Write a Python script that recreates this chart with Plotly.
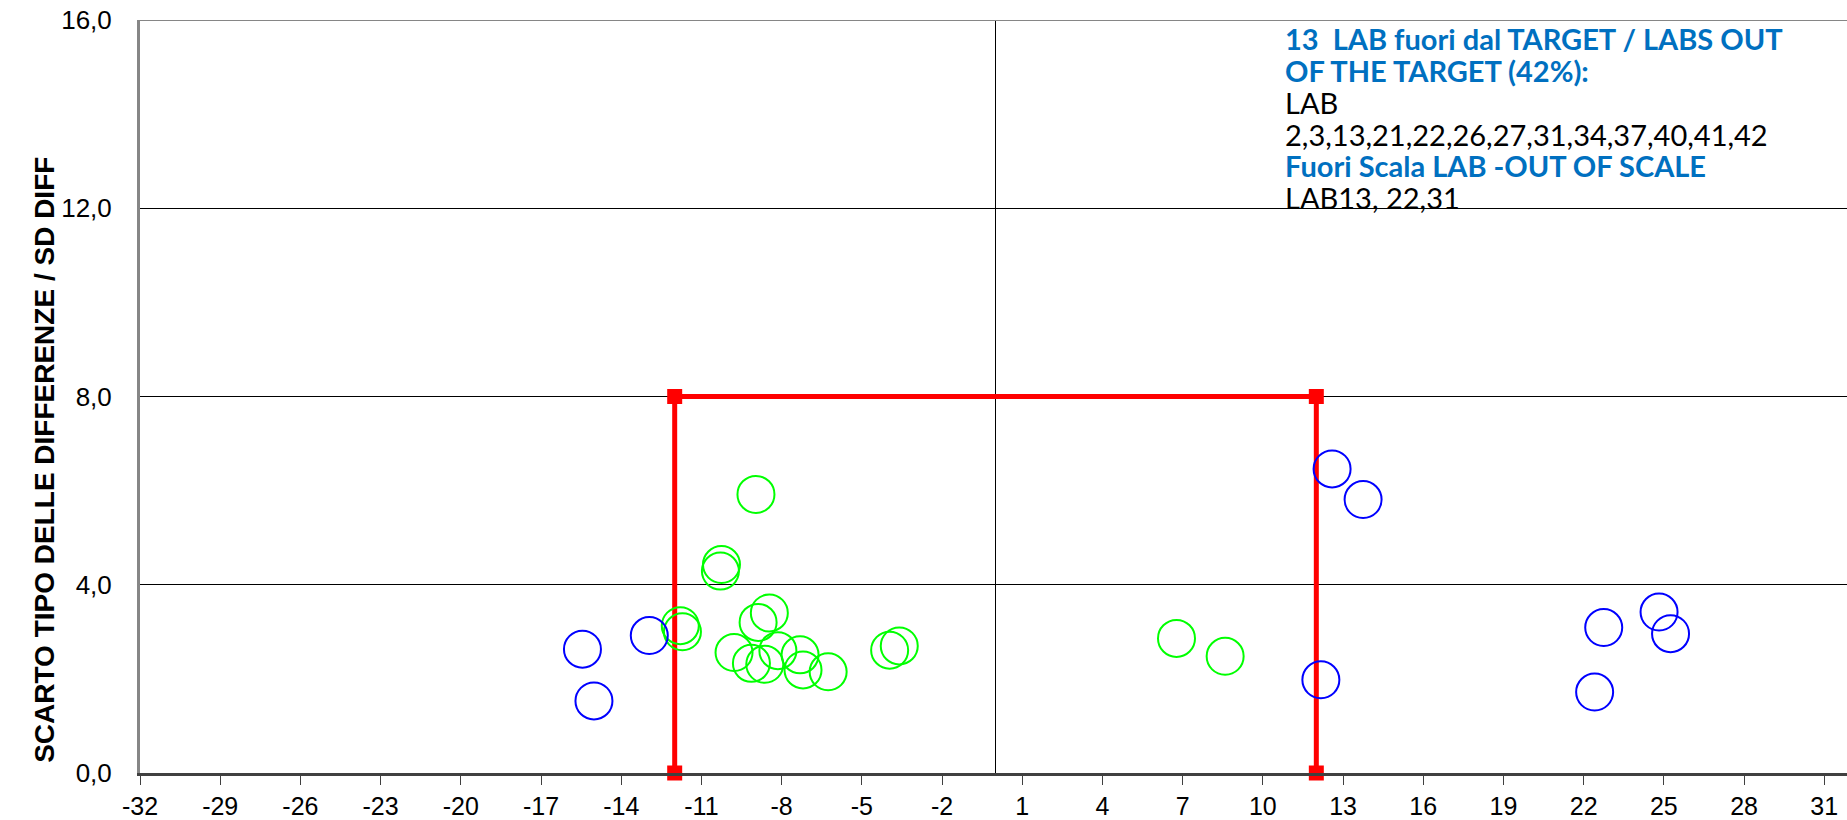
import plotly.graph_objects as go

# labs inside the target (green) and outside (blue): mean diff vs SD diff
green_x = [-8.96, -10.25, -10.29, -11.79, -11.71, -8.46, -8.88, -9.78, -9.13,
           -8.63, -8.14, -7.31, -7.20, -6.26, -3.96, -3.60, 6.77, 8.59]
green_y = [5.92, 4.43, 4.29, 3.13, 3.00, 3.40, 3.20, 2.56, 2.33,
           2.31, 2.60, 2.51, 2.19, 2.15, 2.61, 2.70, 2.86, 2.48]

blue_x = [-15.45, -15.02, -12.95, 12.59, 13.75, 12.17, 22.75, 24.82, 25.25, 22.41]
blue_y = [2.63, 1.53, 2.92, 6.46, 5.81, 1.98, 3.09, 3.42, 2.96, 1.72]

# target box
box_x = [-12, -12, 12, 12]
box_y = [0, 8, 8, 0]

x_ticks = list(range(-32, 32, 3))
x_tick_labels = [str(v) for v in x_ticks]  # plain hyphen, not unicode minus

y_title = "SCARTO TIPO DELLE DIFFERENZE / SD DIFF"
note_lines = [
    ("13  LAB fuori dal TARGET / LABS OUT", "#0070C0", True),
    ("OF THE TARGET (42%):", "#0070C0", True),
    ("LAB", "black", False),
    ("2,3,13,21,22,26,27,31,34,37,40,41,42", "black", False),
    ("Fuori Scala LAB -OUT OF SCALE", "#0070C0", True),
    ("LAB13, 22,31", "black", False),
]

# plot area in pixels
L, T, B, H = 140, 20, 45, 820
PLOT_H = H - T - B

fig = go.Figure()

fig.add_trace(go.Scatter(
    x=box_x, y=box_y, mode="lines+markers",
    line=dict(color="#FF0000", width=5),
    marker=dict(symbol="square", size=15, color="#FF0000"),
    cliponaxis=False, showlegend=False,
))

fig.add_trace(go.Scatter(
    x=green_x, y=green_y, mode="markers",
    marker=dict(symbol="circle-open", size=37, color="#00FF00",
                line=dict(width=2, color="#00FF00")),
    showlegend=False,
))

fig.add_trace(go.Scatter(
    x=blue_x, y=blue_y, mode="markers",
    marker=dict(symbol="circle-open", size=37, color="#0000FF",
                line=dict(width=2, color="#0000FF")),
    showlegend=False,
))

# vertical line at zero and top border
fig.add_shape(type="line", x0=0, x1=0, y0=0, y1=16, xref="x", yref="y",
              line=dict(color="black", width=1), layer="below")
fig.add_shape(type="line", x0=0, x1=1, y0=16, y1=16, xref="paper", yref="y",
              line=dict(color="#868686", width=2))

# note in the upper right, one annotation per line for tight spacing
for i, (t, c, b) in enumerate(note_lines):
    yc = 39 + i * 31.8
    fig.add_annotation(
        x=10.75, y=(H - B - yc) / PLOT_H, xref="x", yref="paper",
        xanchor="left", yanchor="middle",
        text=f"<b>{t}</b>" if b else t, showarrow=False,
        font=dict(family="Lato, Open Sans, sans-serif", size=29, color=c),
    )

fig.add_annotation(
    x=(45 - L) / (1847 - L), y=(H - B - 461) / PLOT_H, xref="paper", yref="paper",
    xanchor="center", yanchor="middle",
    text=f"<b>{y_title}</b>", showarrow=False, textangle=-90,
    font=dict(family="Liberation Sans Narrow, Arial Narrow, Liberation Sans",
              size=28, color="black"),
)

fig.update_layout(
    width=1847, height=H,
    margin=dict(l=L, r=0, t=T, b=B),
    paper_bgcolor="white", plot_bgcolor="white",
    separators=",.",
    font=dict(family="Liberation Sans, Arial, sans-serif", color="black"),
)

fig.update_xaxes(
    range=[-32, 31.85], tickvals=x_ticks, ticktext=x_tick_labels,
    showgrid=False, zeroline=False,
    showline=True, linecolor="#404040", linewidth=3,
    ticks="outside", ticklen=9, tickwidth=1, tickcolor="#404040",
    tickfont=dict(size=25, color="black"),
)
fig.update_yaxes(
    range=[0, 16], tick0=0, dtick=4, tickformat=".1f",
    showgrid=True, gridcolor="black", gridwidth=1, zeroline=False,
    showline=True, linecolor="#868686", linewidth=3,
    ticks="", ticklabelstandoff=20,
    tickfont=dict(size=26, color="black"),
)

fig.write_html("out.html", config={"displayModeBar": False},
               post_script="document.body.style.margin='0';")
